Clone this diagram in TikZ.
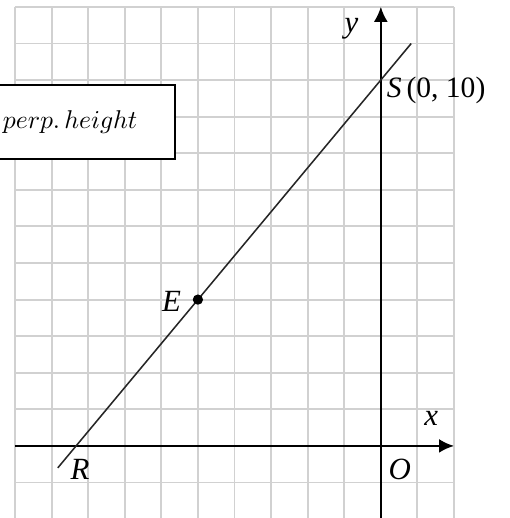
\documentclass[tikz,border=0pt]{standalone}
\usepackage{fontspec}
\setmainfont{Liberation Serif}
\usetikzlibrary{arrows.meta, positioning}

\begin{document}
\begin{tikzpicture}[
    x=0.5cm, y=0.5cm,
    every node/.style={font=\fontsize{11.5}{13}\selectfont},
    gridline/.style={draw=black!18, line width=0.75pt},
    axis/.style={-{Latex[length=5.8pt, width=5.4pt]}, line width=0.9pt},
    ptlabel/.style={inner sep=0pt, font=\fontsize{12}{14}\selectfont\itshape},
  ]
  \useasboundingbox (-10.41,-1.97) rectangle (3.52,12.19);
  \clip (-10.41,-1.97) rectangle (3.52,12.19);

  \draw[gridline, step=1] (-10,-2.5) grid (2,12);

  % axes
  \coordinate (xa) at (-10,0);
  \coordinate (xb) at (2,0);
  \coordinate (ya) at (0,-2.5);
  \coordinate (yb) at (0,12);
  \draw[axis] (xa) -- (xb);
  \draw[axis, line width=0.65pt] (ya) -- (yb);

  % the line through R, E and S
  \coordinate (S) at (0,10);
  \coordinate (E) at (-5,4);
  \coordinate (lbot) at (-8.83,-0.6);
  \coordinate (ltop) at (0.83,11);
  \draw[line width=0.6pt, black!85] (lbot) -- (ltop);
  \fill (E) circle (2pt);

  \node[ptlabel] (ylab) at (-0.8,11.4) {y};
  \node[ptlabel] (xlab) at (1.38,0.76) {x};
  \node[ptlabel] (olab) at (0.52,-0.63) {O};
  \node[ptlabel] (rlab) at (-8.22,-0.63) {R};
  \node[ptlabel] (elab) at (-5.72,3.94) {E};
  \node[anchor=west, inner sep=0pt] (slab) at (0.15,9.73) {\textit{S}\,(0, 10)};

  % formula box, cut at the left edge
  \node[draw, fill=white, line width=0.6pt, anchor=east,
    minimum width=3cm, minimum height=1.01cm] (box) at (-5.6,8.85) {};
  \node[left=0.52cm of box.east, inner sep=0pt,
    font=\fontsize{10.2}{12}\selectfont] (area) {$perp.\,height$};
\end{tikzpicture}
\end{document}
